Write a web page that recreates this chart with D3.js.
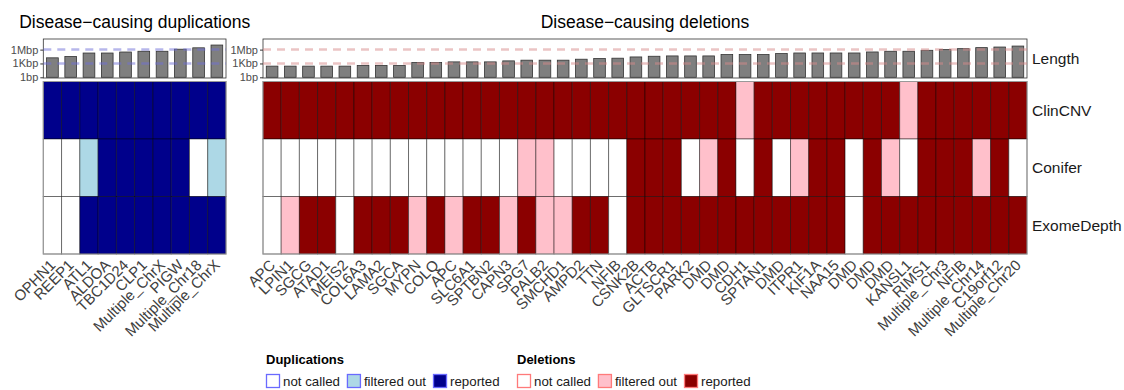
<!DOCTYPE html>
<html><head><meta charset="utf-8">
<script src="https://cdn.jsdelivr.net/npm/d3@7"></script>
<style>body{margin:0;background:#fff} text{font-family:"Liberation Sans",Arial,sans-serif}</style>
</head><body><svg id="c" width="1124" height="390"></svg>
<script>
// ---------- data ----------
const dupGenes = ["OPHN1","REEP1","ATL1","ALDOA","TBC1D24","CLP1","Multiple_ChrX","PIGW","Multiple_Chr18","Multiple_ChrX"];
const dupLength = [16600, 32400, 182000, 182000, 302000, 437000, 437000, 1230000, 2450000, 9800000];
const dupClinCNV    = ["r","r","r","r","r","r","r","r","r","r"];
const dupConifer    = ["n","n","f","r","r","r","r","r","n","f"];
const dupExomeDepth = ["n","n","r","r","r","r","r","r","r","r"];

const delGenes = ["APC","LPIN1","SGCG","ATAD1","MEIS2","COL6A3","LAMA2","SGCA","MYPN","COLQ","APC","SLC6A1","SPTBN2","CAPN3","SPG7","PALB2","SMCHD1","AMPD2","TTN","NFIB","CSNK2B","ACTB","GLTSCR1","PARK2","DMD","DMD","CDH1","SPTAN1","DMD","ITPR1","KIF1A","NAA15","DMD","DMD","DMD","KANSL1","RIMS1","Multiple_Chr3","NFIB","Multiple_Chr14","C19orf12","Multiple_Chr20"];
const delLength = [263,263,263,263,263,372,372,372,1620,1620,2190,2190,2190,3630,5130,5130,5130,8300,11700,13800,25700,36300,42700,42700,42700,85100,85100,85100,138000,186000,186000,186000,186000,309000,437000,437000,708000,1000000,1620000,2690000,3630000,5890000];
const delClinCNV = ["r","r","r","r","r","r","r","r","r","r","r","r","r","r","r","r","r","r","r","r","r","r","r","r","r","r","f","r","r","r","r","r","r","r","r","f","r","r","r","r","r","r"];
const delConifer = ["n","n","n","n","n","n","n","n","n","n","n","n","n","n","f","f","n","n","n","n","r","r","r","n","f","r","n","r","n","f","r","r","n","r","f","n","r","r","r","f","r","n"];
const delExomeDepth = ["n","f","r","r","n","r","r","r","f","r","f","r","r","f","r","f","f","r","r","n","r","r","r","r","r","r","r","r","r","r","r","r","n","r","r","r","r","r","r","r","r","r"];

const rowNames = ["ClinCNV","Conifer","ExomeDepth"];
const lengthTicks = [1, 1e3, 1e6];
const lengthTickLabels = ["1bp","1Kbp","1Mbp"];
const guideLines = [1e3, 1e6];
const statusKeys = ["n","f","r"];
const statusLabels = ["not called","filtered out","reported"];
const dupColors = ["#ffffff","#add8e6","#00008b"];
const delColors = ["#ffffff","#ffc0cb","#8b0000"];

// ---------- drawing ----------
const svg = d3.select("#c");
const yLen = d3.scaleLog().domain([1, Math.pow(10, 8.3)]).range([77.3, 39]);
const yRow = d3.scaleBand().domain(rowNames).range([81.5, 254]);

function panel(o) {
  const g = svg.append("g");
  const idx = d3.range(o.genes.length);
  const x = d3.scaleBand().domain(idx).range([o.x0, o.x1]);
  const bw = x.bandwidth();
  const col = d3.scaleOrdinal().domain(statusKeys).range(o.colors);

  // title
  g.append("text").attr("x", (o.x0 + o.x1) / 2).attr("y", 28)
    .attr("text-anchor", "middle").attr("font-size", "17.5px").attr("fill", "#000")
    .text(o.title);

  // bar panel
  g.append("rect").attr("x", o.x0).attr("y", 39).attr("width", o.x1 - o.x0).attr("height", 39)
    .attr("fill", "#fff").attr("stroke", "#333").attr("stroke-width", 0.8);
  g.selectAll(".bar").data(idx).join("rect")
    .attr("x", i => x(i) + bw * 0.18).attr("width", bw * 0.64)
    .attr("y", i => yLen(o.lengths[i])).attr("height", i => yLen(1) - yLen(o.lengths[i]))
    .attr("fill", "#7f7f7f").attr("stroke", "#333").attr("stroke-width", 0.8);
  g.selectAll(".gl").data(guideLines).join("line")
    .attr("x1", o.x0).attr("x2", o.x1).attr("y1", d => yLen(d)).attr("y2", d => yLen(d))
    .attr("stroke", o.dash).attr("stroke-width", 2.5).attr("stroke-dasharray", "8,6")
    .attr("stroke-opacity", 0.5);
  const ax = g.append("g").attr("transform", `translate(${o.x0},0)`)
    .call(d3.axisLeft(yLen).tickValues(lengthTicks).tickSize(3).tickPadding(2)
      .tickFormat((d, i) => lengthTickLabels[i]));
  ax.select(".domain").remove();
  ax.selectAll("line").attr("stroke", "#333");
  ax.selectAll("text").attr("font-size", "11px").attr("fill", "#4d4d4d")
    .attr("font-family", '"Liberation Sans",Arial,sans-serif');

  // heatmap
  const rows = [o.clin, o.conifer, o.exome];
  rows.forEach((arr, r) => {
    g.selectAll(".c" + r).data(idx).join("rect")
      .attr("x", i => x(i)).attr("width", bw)
      .attr("y", yRow(rowNames[r])).attr("height", yRow.bandwidth())
      .attr("fill", i => col(arr[i]))
      .attr("stroke", "#000").attr("stroke-opacity", 0.45).attr("stroke-width", 1);
  });
  g.append("rect").attr("x", o.x0).attr("y", 81.5).attr("width", o.x1 - o.x0).attr("height", 254 - 81.5)
    .attr("fill", "none").attr("stroke", "#999").attr("stroke-width", 1);

  // x labels
  g.selectAll(".xl").data(idx).join("text")
    .attr("transform", i => `translate(${x(i) + bw / 2 + 4},${266}) rotate(-45)`)
    .attr("text-anchor", "end").attr("font-size", "15px").attr("fill", "#404040")
    .text(i => o.genes[i]);
  return g;
}

panel({title: "Disease\u2212causing duplications", x0: 43.3, x1: 226, genes: dupGenes, lengths: dupLength,
  clin: dupClinCNV, conifer: dupConifer, exome: dupExomeDepth, colors: dupColors, dash: "#7070d8"});
panel({title: "Disease\u2212causing deletions", x0: 263, x1: 1027, genes: delGenes, lengths: delLength,
  clin: delClinCNV, conifer: delConifer, exome: delExomeDepth, colors: delColors, dash: "#d88a8a"});

// row labels
const rowLabels = ["Length"].concat(rowNames);
const rowY = [58.5].concat(rowNames.map(r => yRow(r) + yRow.bandwidth() / 2));
svg.selectAll(".rl").data(rowLabels).join("text")
  .attr("x", 1032).attr("y", (d, i) => rowY[i]).attr("dy", "0.35em")
  .attr("font-size", "15.5px").attr("fill", "#1a1a1a").text(d => d);

// legend
function legend(x0, title, colors, border) {
  const g = svg.append("g").attr("transform", `translate(${x0},0)`);
  g.append("text").attr("x", 0).attr("y", 364).attr("font-size", "13px").attr("font-weight", "bold")
    .attr("fill", "#000").text(title);
  let cx = 0;
  statusKeys.forEach((k, i) => {
    g.append("rect").attr("x", cx + 0.5).attr("y", 374.5).attr("width", 13).attr("height", 13)
      .attr("fill", colors[i]).attr("stroke", border).attr("stroke-width", 1.3);
    const t = g.append("text").attr("x", cx + 17).attr("y", 386).attr("font-size", "13.3px")
      .attr("fill", "#1a1a1a").text(statusLabels[i]);
    cx += 17 + t.node().getComputedTextLength() + 7;
  });
}
legend(266, "Duplications", dupColors, "#6a6aff");
legend(517, "Deletions", delColors, "#ff7a7a");
</script></body></html>
